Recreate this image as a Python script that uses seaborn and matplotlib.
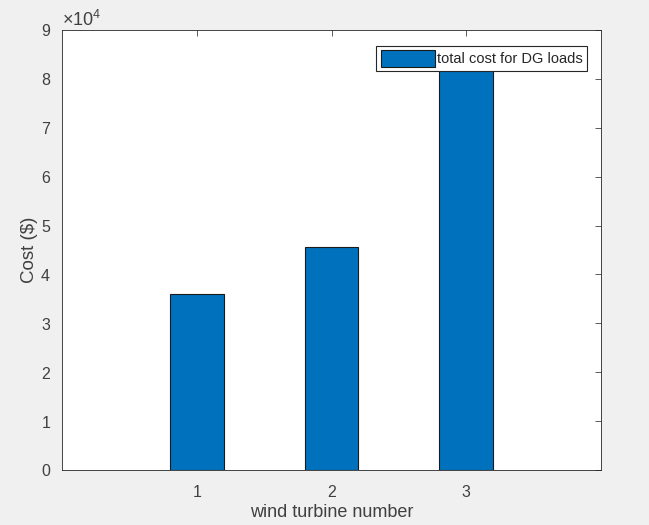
import numpy as np
import pandas as pd
import matplotlib
matplotlib.use('Agg')
import matplotlib.pyplot as plt
import seaborn as sns
from matplotlib.ticker import ScalarFormatter

# data
turbines = [1, 2, 3]
total_cost = [36000, 45600, 83000]
legend_label = 'total cost for DG loads'

df = pd.DataFrame({'turbine': turbines, 'cost': total_cost})

sns.set_style('white')
plt.rcParams['font.family'] = ['Liberation Sans', 'DejaVu Sans']
plt.rcParams['mathtext.fontset'] = 'custom'
plt.rcParams['mathtext.rm'] = 'Liberation Sans'

fig = plt.figure(figsize=(6.49, 5.25), dpi=100)
fig.patch.set_facecolor('#f0f0f0')
ax = fig.add_axes([62/649, 1 - 470/525, (601-62)/649, (470-30)/525])
ax.set_facecolor('white')

sns.barplot(data=df, x='turbine', y='cost', native_scale=True, width=0.4,
            color='#0072bd', saturation=1, edgecolor='#1a1a1a', linewidth=0.8,
            label=legend_label, ax=ax)

ax.set_xlim(0, 4)
ax.set_ylim(0, 90000)
ax.set_xticks(turbines)
ax.set_yticks(np.arange(0, 90001, 10000))
fmt = ScalarFormatter(useMathText=True)
fmt.set_powerlimits((0, 0))
ax.yaxis.set_major_formatter(fmt)
ax.yaxis.get_offset_text().set_fontsize(13)
ax.yaxis.get_offset_text().set_color('#404040')

ax.tick_params(direction='in', length=4, width=0.6, top=True, right=True,
               labelsize=11.5, colors='#404040')
ax.tick_params(axis='x', pad=11)
ax.tick_params(axis='y', pad=8)
for s in ax.spines.values():
    s.set_color('#262626')
    s.set_linewidth(0.6)

ax.set_xlabel('wind turbine number', fontsize=13, color='#404040', labelpad=3)
ax.set_ylabel('Cost (\\$)', fontsize=13.5, color='#404040', labelpad=2)

leg = ax.legend(loc='upper right', bbox_to_anchor=(0.974, 0.964), fontsize=10.5,
                frameon=True, fancybox=False, edgecolor='#262626',
                handlelength=3.7, handleheight=1.4, handletextpad=0.15,
                borderpad=0.3, borderaxespad=0)
leg.get_frame().set_linewidth(0.8)
leg.get_frame().set_alpha(1)

fig.savefig('out.png', dpi=100, facecolor=fig.get_facecolor())
